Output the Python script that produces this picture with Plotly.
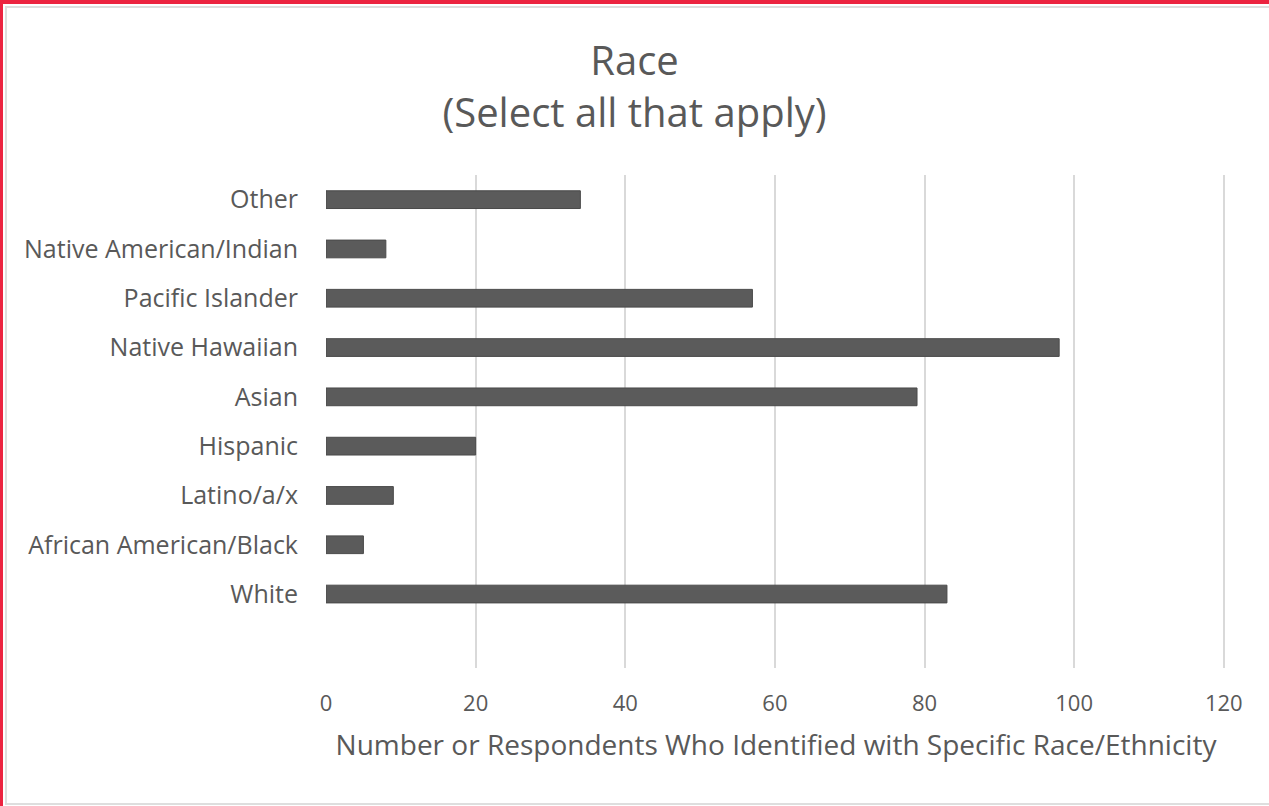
import plotly.graph_objects as go

# ── Data ────────────────────────────────────────────────────────────────────
categories = [
    "White",
    "African American/Black",
    "Latino/a/x",
    "Hispanic",
    "Asian",
    "Native Hawaiian",
    "Pacific Islander",
    "Native American/Indian",
    "Other",
]
counts = [83, 5, 9, 20, 79, 98, 57, 8, 34]
x_ticks = [0, 20, 40, 60, 80, 100, 120]

TITLE = "Race<br>(Select all that apply)"
X_TITLE = "Number or Respondents Who Identified with Specific Race/Ethnicity"

# ── Style ───────────────────────────────────────────────────────────────────
W, H = 1269, 806
L, R, T, B = 326, 43, 175, 138
FONT = "'Open Sans', 'Noto Sans', sans-serif"
TEXT = "#595959"
GRID = "#d9d9d9"
BAR = "#5b5b5b"
RED = "#ec2440"


def px(x, y):
    """Pixel position -> paper coordinates."""
    pw, ph = W - L - R, H - T - B
    return (x - L) / pw, (H - B - y) / ph


fig = go.Figure(go.Bar(
    x=counts,
    y=categories,
    orientation="h",
    width=0.36,
    marker=dict(color=BAR, line=dict(color="#4a4a4a", width=1)),
    hovertemplate="<b>%{y}</b>: %{x}<extra></extra>",
))

# page frame: red strip top + left, light grey inner edge
shapes = []
for (ax, ay, bx, by, kind) in [(0, 0, W + 5, 4, "fill"), (0, 0, 3, H + 5, "fill"),
                               (6, 7, W + 5, H - 2, "edge")]:
    x0, y0 = px(ax, ay)
    x1, y1 = px(bx, by)
    if kind == "fill":
        shapes.append(dict(type="rect", xref="paper", yref="paper", x0=x0, x1=x1, y0=y1, y1=y0,
                           fillcolor=RED, line=dict(width=0), layer="above"))
    else:
        shapes.append(dict(type="rect", xref="paper", yref="paper", x0=x0, x1=x1, y0=y1, y1=y0,
                           fillcolor="rgba(0,0,0,0)", line=dict(color="#dedede", width=2),
                           layer="below"))

fig.update_layout(
    width=W,
    height=H,
    paper_bgcolor="white",
    plot_bgcolor="white",
    margin=dict(l=L, r=R, t=T, b=B),
    font=dict(family=FONT, color=TEXT, size=23),
    showlegend=False,
    shapes=shapes,
    title=dict(
        text=TITLE,
        x=0.5,
        xanchor="center",
        y=1 - 75 / H,
        yanchor="middle",
        font=dict(family=FONT, size=40, color=TEXT),
    ),
    xaxis=dict(
        range=[0, 120.3],
        tickvals=x_ticks,
        showgrid=True,
        gridcolor=GRID,
        gridwidth=2,
        zeroline=False,
        showline=False,
        ticks="",
        ticklabelstandoff=20,
        tickfont=dict(size=22, color=TEXT),
        title=dict(text=X_TITLE, font=dict(size=28, color=TEXT), standoff=19),
        fixedrange=True,
    ),
    yaxis=dict(
        type="category",
        categoryorder="array",
        categoryarray=categories,
        range=[-1.5, 8.5],
        showgrid=False,
        zeroline=False,
        showline=False,
        ticks="",
        ticklabelstandoff=27,
        tickfont=dict(size=25, color=TEXT),
        fixedrange=True,
    ),
)

fig.write_html("out.html", config={"displayModeBar": False},
               post_script="document.body.style.margin='0';")
